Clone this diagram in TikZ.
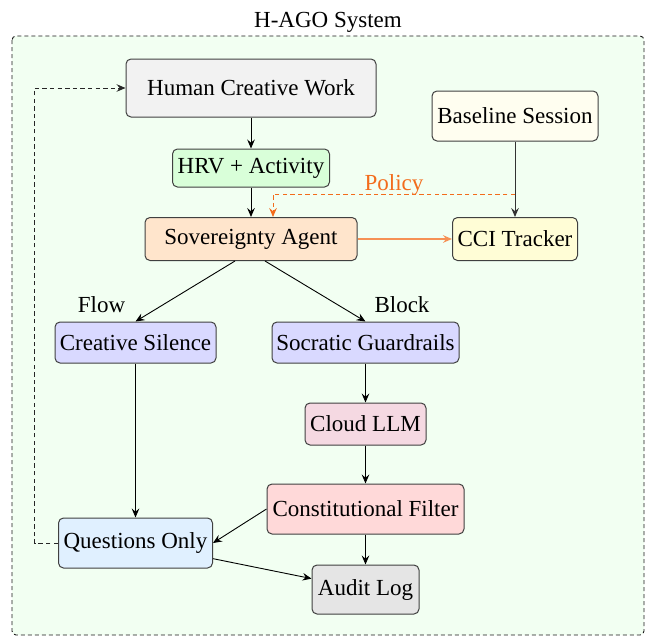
\documentclass[tikz,border=0pt]{standalone}
\usepackage{fontspec}
\setmainfont{Liberation Serif}
\usetikzlibrary{arrows.meta}
\definecolor{qblue}{RGB}{224,240,255}
\definecolor{pcol}{RGB}{243,108,28}
\begin{document}
\begin{tikzpicture}[x=0.5pt,y=-0.5pt,
  font=\fontsize{11.5}{14}\selectfont,
  box/.style={draw=black!75, line width=0.5pt, rounded corners=2.5pt, inner sep=0pt, align=center},
  arr/.style={-{Stealth[length=4.5pt,width=3.8pt,inset=1.6pt]}, line width=0.45pt},
  dsh/.style={dash pattern=on 2.2pt off 1.6pt},
  lbl/.style={anchor=base, inner sep=0pt}]
\useasboundingbox (0,0) rectangle (649,637);

% system frame and title
\draw[draw=black!90, fill=green!5, line width=0.45pt, dash pattern=on 2pt off 1.5pt, rounded corners=2pt] (12,36) rectangle (644,635);
\node[lbl] (title) at (328,27) {H-AGO System};

% nodes
\node[box, fill=gray!10, minimum width=125pt, minimum height=29pt] (human) at (251,88) {Human Creative Work};
\node[box, fill=green!15, minimum width=78.5pt, minimum height=19pt] (hrv) at (251,168) {HRV + Activity};
\node[box, fill=orange!20, minimum width=106pt, minimum height=21.5pt] (agent) at (251,239) {Sovereignty Agent};
\node[box, fill=yellow!6, minimum width=83pt, minimum height=25pt] (base) at (515,116) {Baseline Session};
\node[box, fill=yellow!16, minimum width=62.5pt, minimum height=21.5pt] (cci) at (515,239) {CCI Tracker};
\node[box, fill=blue!15, minimum width=80.5pt, minimum height=20.5pt] (cs) at (135.5,342.5) {Creative Silence};
\node[box, fill=blue!15, minimum width=93.5pt, minimum height=20.5pt] (sg) at (365.5,342.5) {Socratic Guardrails};
\node[box, fill=purple!15, minimum width=60.5pt, minimum height=21pt] (cloud) at (365.5,424) {Cloud LLM};
\node[box, fill=red!15, minimum width=98.5pt, minimum height=25pt] (cf) at (365.5,509) {Constitutional Filter};
\node[box, fill=qblue, minimum width=77pt, minimum height=25pt] (qo) at (135.5,543) {Questions Only};
\node[box, fill=gray!20, minimum width=53.5pt, minimum height=24.5pt] (audit) at (365.5,589.5) {Audit Log};

% branch labels
\node[lbl] (flow) at (101.5,312) {Flow};
\node[lbl] (block) at (402,312) {Block};

% main flow
\draw[arr] (human) -- (hrv);
\draw[arr] (hrv) -- (agent);
\draw[arr, pcol!75, line width=0.65pt] (agent) -- (cci);
\draw[arr, black!80] (base) -- (cci);
\coordinate (pol) at (515,194);
\draw[arr, pcol, dsh] (pol) -| ([xshift=11pt]agent.north)
  node[pos=0.25, lbl, yshift=1.6pt, text=pcol] {Policy};
\draw[arr] ([xshift=-8pt]agent.south) -- (cs.north);
\draw[arr] ([xshift=7pt]agent.south) -- (sg.north);
\draw[arr] (cs) -- (qo);
\draw[arr] (sg) -- (cloud);
\draw[arr] (cloud) -- (cf);
\draw[arr] (cf) -- (audit);
\draw[arr] (cf.west) -- (qo.east);
\draw[arr] (qo) -- (audit);

% feedback loop
\draw[arr, black!85, dsh] (qo.west) -- ++(-11.75pt,0) |- (human.west);
\end{tikzpicture}
\end{document}
